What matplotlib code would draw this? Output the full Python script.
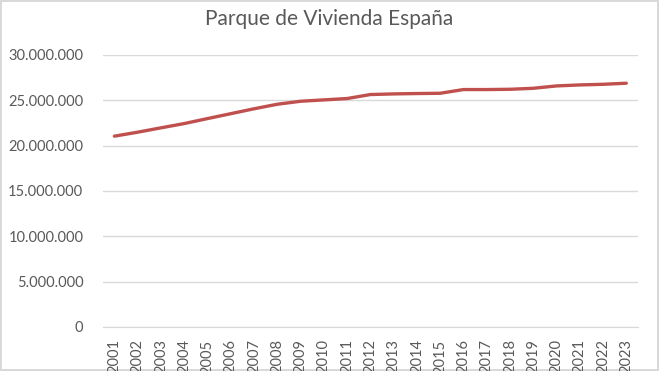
import matplotlib
matplotlib.use("Agg")
import matplotlib.pyplot as plt
from matplotlib.ticker import FuncFormatter

years = [str(y) for y in range(2001, 2024)]
viviendas = [21040000, 21480000, 21960000, 22430000, 22980000, 23520000,
             24060000, 24560000, 24890000, 25040000, 25190000, 25630000,
             25700000, 25740000, 25770000, 26180000, 26180000, 26210000,
             26320000, 26580000, 26690000, 26760000, 26880000]

titulo = 'Parque de Vivienda España'
gris = '#595959'
rejilla = '#D9D9D9'

plt.rcParams['font.family'] = ['Lato', 'DejaVu Sans']

fig = plt.figure(figsize=(6.59, 3.71), dpi=100)
fig.patch.set_edgecolor(rejilla)
fig.patch.set_linewidth(1.5)
ax = fig.add_axes([0.156, 0.1186, 0.812, 0.7334])

x = range(len(years))
ax.plot(x, viviendas, color='#C0504D', linewidth=2.4, solid_capstyle='round')

ax.set_xlim(-0.5, len(years) - 0.5)
ax.set_ylim(0, 30000000)
ax.set_yticks(range(0, 30000001, 5000000))
ax.yaxis.set_major_formatter(FuncFormatter(lambda v, p: f'{int(v):,}'.replace(',', '.')))
ax.set_xticks(list(x))
ax.set_xticklabels(years, rotation=90)

ax.grid(axis='y', color=rejilla, linewidth=1)
ax.set_axisbelow(True)
for side in ['top', 'right', 'left']:
    ax.spines[side].set_visible(False)
ax.spines['bottom'].set_color(rejilla)
ax.tick_params(axis='both', length=0, labelsize=10.5, labelcolor=gris)
ax.tick_params(axis='x', pad=9)
ax.tick_params(axis='y', pad=14)

fig.text(0.5, 0.95, titulo, ha='center', va='center', fontsize=15, color=gris)

fig.savefig('out.png', dpi=100)
